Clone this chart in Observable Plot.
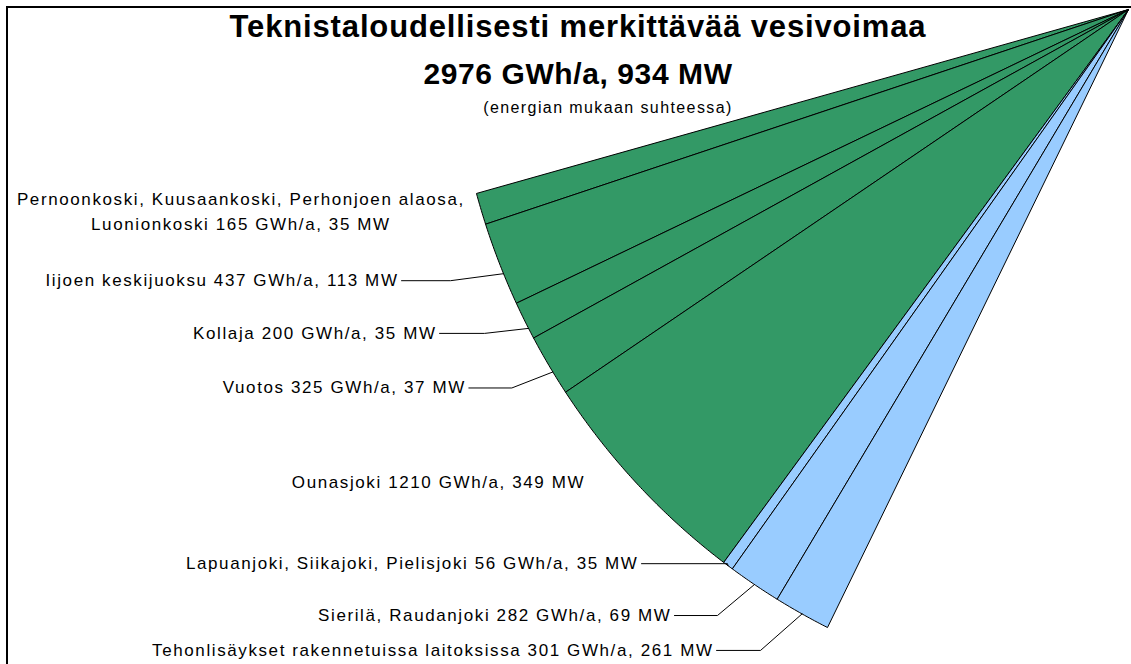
<!DOCTYPE html>
<html>
<head>
<meta charset="utf-8">
<script src="https://cdn.jsdelivr.net/npm/d3@7"></script>
<script src="https://cdn.jsdelivr.net/npm/@observablehq/plot@0.6"></script>
<style>
  body { margin: 0; background: #fff; }
  #wrap { position: relative; width: 1131px; height: 664px; overflow: hidden; background: #fff;
          font-family: "Liberation Sans", Arial, sans-serif; color: #000; }
  #border { position: absolute; left: 6px; top: 6px; width: 1300px; height: 800px;
            border-left: 2px solid #000; border-top: 2px solid #000; }
  .t { position: absolute; left: 0; width: 1156px; text-align: center; white-space: nowrap; }
  #title { top: 11px; font-size: 31px; line-height: 31px; font-weight: bold; letter-spacing: 0.85px; }
  #sub   { top: 59px; font-size: 30px; line-height: 30px; font-weight: bold; letter-spacing: 0.6px; }
  #note  { top: 100px; left: 30px; font-size: 16px; line-height: 16px; letter-spacing: 1.4px; }
  #chart { position: absolute; left: 0; top: 0; }
</style>
</head>
<body>
<div id="wrap">
  <div id="border"></div>
  <div id="chart"></div>
  <div class="t" id="title"></div>
  <div class="t" id="sub"></div>
  <div class="t" id="note"></div>
</div>
<script>
// ---------- data ----------
const regions = [
  "Pernoonkoski, Kuusaankoski, Perhonjoen alaosa,\nLuonionkoski",
  "Iijoen keskijuoksu",
  "Kollaja",
  "Vuotos",
  "Ounasjoki",
  "Lapuanjoki, Siikajoki, Pielisjoki",
  "Sierilä, Raudanjoki",
  "Tehonlisäykset rakennetuissa laitoksissa"
];
const energyGWh = [165, 437, 200, 325, 1210, 56, 282, 301];
const powerMW   = [35, 113, 35, 37, 349, 35, 69, 261];
const kinds     = ["uusi", "uusi", "uusi", "uusi", "uusi", "muu", "muu", "muu"];
const titleText = "Teknistaloudellisesti merkittävää vesivoimaa";
const totalText = "2976 GWh/a, 934 MW";
const noteText  = "(energian mukaan suhteessa)";

document.getElementById("title").textContent = titleText;
document.getElementById("sub").textContent = totalText;
document.getElementById("note").textContent = noteText;

// ---------- geometry / layout ----------
const W = 1131, H = 664;
const cx = 1128, cy = 9, rx = 676.5, ry = 690.1;   // pie centre & radii (px)
const startDeg = 164.54, sweepDeg = 48.12;          // screen angles of the wedge
const xDomain = [(0 - cx) / rx, (W - cx) / rx];
const yDomain = [(0 - cy) / ry, (H - cy) / ry];
const sx = d3.scaleLinear(xDomain, [0, W]);
const sy = d3.scaleLinear(yDomain, [0, H]);

// label placement relative to the leader's arc point (px); t = where on the slice's arc the leader ends
const labelLayout = [
  {anchor: "middle", t: 0.5, dx: -240, dy: 1},
  {anchor: "end", t: 0.62, dx: -105, dy: 7,  knee: -53},
  {anchor: "end", t: 0.72, dx: -92,  dy: 5,  knee: -44},
  {anchor: "end", t: 0.62, dx: -87,  dy: 16, knee: -41},
  {anchor: "middle", t: 0.5, dx: -199, dy: -4},
  {anchor: "end", t: 0.5, dx: -89.5, dy: -2, knee: -0.5},
  {anchor: "end", t: 0.5, dx: -83,  dy: 31, knee: -37},
  {anchor: "end", t: 0.5, dx: -88.5, dy: 36.5, knee: -41.5}
];

const total = d3.sum(energyGWh);
const ang = f => (startDeg - sweepDeg * f) * Math.PI / 180;
let cum = 0;
const slices = regions.map((r, i) => {
  const f0 = cum / total; cum += energyGWh[i];
  return {i, kind: kinds[i], f0, f1: cum / total,
          text: `${r} ${energyGWh[i]} GWh/a, ${powerMW[i]} MW`};
});

const poly = [];
for (const s of slices) {
  poly.push({z: s.i, kind: s.kind, x: 0, y: 0});
  const n = Math.max(2, Math.ceil((s.f1 - s.f0) * sweepDeg * 4));
  for (let k = 0; k <= n; k++) {
    const a = ang(s.f0 + (s.f1 - s.f0) * k / n);
    poly.push({z: s.i, kind: s.kind, x: Math.cos(a), y: Math.sin(a)});
  }
  poly.push({z: s.i, kind: s.kind, x: 0, y: 0});
}

const labels = [], leaders = [];
slices.forEach((s, i) => {
  const L = labelLayout[i];
  const a = ang(s.f0 + (s.f1 - s.f0) * L.t);
  const mx = sx(Math.cos(a)), my = sy(Math.sin(a));
  const ty = my + L.dy;
  labels.push({anchor: L.anchor, text: s.text, x: sx.invert(mx + L.dx), y: sy.invert(ty)});
  if (L.knee !== undefined) {
    const pts = [[mx + L.dx + 3, ty], [mx + L.knee, ty], [mx, my]];
    pts.forEach(([px, py]) => leaders.push({z: i, x: sx.invert(px), y: sy.invert(py)}));
  }
});

const chart = Plot.plot({
  width: W, height: H, margin: 0,
  x: {domain: xDomain, range: [0, W], axis: null},
  y: {domain: yDomain, range: [0, H], axis: null},
  color: {domain: ["uusi", "muu"], range: ["#339966", "#99ccff"]},
  style: "background: transparent; font-family: 'Liberation Sans', Arial, sans-serif; letter-spacing: 1.6px; overflow: visible;",
  marks: [
    Plot.line(poly, {x: "x", y: "y", z: "z", fill: "kind", stroke: "#000", strokeWidth: 1, curve: "linear", strokeLinejoin: "miter"}),
    Plot.line(leaders, {x: "x", y: "y", z: "z", stroke: "#000", strokeWidth: 1}),
    Plot.text(labels.filter(d => d.anchor === "end"), {x: "x", y: "y", text: "text", textAnchor: "end", fontSize: 17, fill: "#000"}),
    Plot.text(labels.filter(d => d.anchor === "middle"), {x: "x", y: "y", text: "text", textAnchor: "middle", fontSize: 17, lineHeight: 1.47, fill: "#000"})
  ]
});
document.getElementById("chart").appendChild(chart);
</script>
</body>
</html>
